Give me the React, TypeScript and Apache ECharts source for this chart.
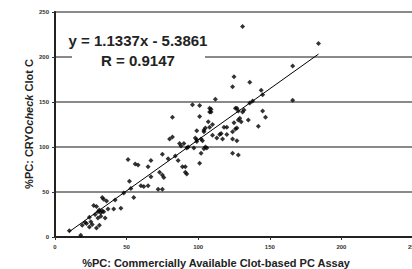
import React, { useEffect, useRef } from "react";
import * as echarts from "echarts";

const xTicks = [0, 50, 100, 150, 200, 250];
const yTicks = [0, 50, 100, 150, 200, 250];

const points: number[][] = [
  [10, 7], [18, 2], [19, 13], [21, 16], [22, 15], [24, 11], [25, 17], [24, 22], [26, 14], [27, 35],
  [28, 25], [29, 10], [29, 34], [30, 28], [30, 21], [31, 30], [31, 13], [32, 23], [32, 27], [33, 29],
  [33, 44], [34, 28], [34, 42], [35, 21], [36, 40], [37, 31], [41, 31], [42, 41], [46, 32], [48, 49],
  [51, 86], [52, 62], [53, 54], [55, 44], [56, 81], [58, 80], [60, 57], [62, 56], [65, 57], [65, 78],
  [67, 85], [67, 67], [72, 53], [75, 53], [73, 72], [75, 69], [76, 66], [75, 92], [79, 87], [80, 109],
  [82, 111], [82, 133], [84, 90], [86, 85], [87, 104], [88, 101], [89, 78], [90, 104], [91, 72], [91, 78],
  [92, 70], [93, 100], [92, 99], [96, 147], [97, 99], [98, 110], [99, 106], [99, 118], [99, 108], [101, 134],
  [101, 146], [101, 82], [102, 109], [102, 93], [103, 107], [104, 98], [104, 117], [104, 119], [105, 100], [105, 121],
  [106, 99], [107, 128], [108, 143], [108, 139], [108, 122], [109, 142], [109, 139], [110, 113], [110, 125], [112, 153],
  [113, 110], [115, 114], [116, 115], [117, 109], [118, 122], [120, 114], [120, 122], [124, 117], [124, 109], [124, 93],
  [125, 127], [126, 143], [126, 120], [127, 107], [127, 121], [128, 91], [127, 143], [128, 140], [129, 132], [128, 130],
  [130, 128], [131, 139], [132, 141], [135, 130], [136, 149], [138, 151], [142, 123], [145, 140], [147, 133], [166, 152],
  [131, 234], [184, 215], [166, 190], [125, 178], [124, 167], [136, 172], [144, 163], [145, 158],
];

const slope = 1.1337;
const intercept = -5.3861;
const fitRange = [10, 184];
const equationText = "y = 1.1337x - 5.3861";
const rText = "R = 0.9147";
const xTitle = "%PC: Commercially Available Clot-based PC Assay";
const yTitleParts = ["%PC: CRYO", "check", " Clot C"];

export default function App() {
  const ref = useRef<HTMLDivElement>(null);
  useEffect(() => {
    if (!ref.current) return;
    const chart = echarts.init(ref.current, null, { renderer: "svg" });
    const fitLine = fitRange.map((x) => [x, slope * x + intercept]);
    const font = "Liberation Sans, Arial, sans-serif";
    chart.setOption({
      animation: false,
      backgroundColor: "#fff",
      grid: {
        left: 55,
        width: 358,
        top: 12,
        height: 225,
        outerBoundsMode: "none",
        containLabel: false,
        show: true,
        borderColor: "#3c3c3c",
        borderWidth: 2,
      },
      xAxis: {
        type: "value",
        min: xTicks[0],
        max: xTicks[xTicks.length - 1],
        interval: 50,
        axisLine: { show: true, lineStyle: { color: "#222", width: 2 } },
        axisTick: { show: true, length: 3, lineStyle: { color: "#333" } },
        axisLabel: {
          margin: 7,
          fontSize: 6,
          fontWeight: "bold",
          color: "#333",
          fontFamily: font,
          showMaxLabel: true,
        },
        splitLine: { show: false },
      },
      yAxis: {
        type: "value",
        min: yTicks[0],
        max: yTicks[yTicks.length - 1],
        interval: 50,
        axisLine: { show: true, lineStyle: { color: "#222", width: 2 } },
        axisTick: { show: true, length: 3, lineStyle: { color: "#333" } },
        axisLabel: {
          margin: 6,
          fontSize: 6,
          fontWeight: "bold",
          color: "#333",
          fontFamily: font,
        },
        splitLine: { show: true, lineStyle: { color: "#8a8a8a", width: 2 } },
      },
      series: [
        {
          type: "scatter",
          data: points,
          symbol: "diamond",
          symbolSize: 5,
          itemStyle: { color: "#000" },
          z: 3,
        },
        {
          type: "line",
          data: fitLine,
          symbol: "none",
          lineStyle: { color: "#000", width: 1 },
          z: 4,
        },
      ],
      graphic: [
        {
          type: "rect",
          shape: { x: 72, y: 25, width: 133, height: 46 },
          style: { fill: "#fff" },
          z: 10,
        },
        {
          type: "text",
          x: 138,
          y: 40,
          z: 11,
          style: {
            text: equationText,
            fill: "#222",
            font: `bold 15px ${font}`,
            align: "center",
            verticalAlign: "middle",
          },
        },
        {
          type: "text",
          x: 138,
          y: 60,
          z: 11,
          style: {
            text: rText,
            fill: "#222",
            font: `bold 15px ${font}`,
            align: "center",
            verticalAlign: "middle",
          },
        },
        {
          type: "text",
          x: 216,
          y: 263,
          z: 11,
          style: {
            text: xTitle,
            fill: "#222",
            font: `bold 11px ${font}`,
            align: "center",
            verticalAlign: "middle",
          },
        },
        {
          type: "text",
          x: 29,
          y: 124,
          rotation: Math.PI / 2,
          z: 11,
          style: {
            text: `{a|${yTitleParts[0]}}{b|${yTitleParts[1]}}{a|${yTitleParts[2]}}`,
            align: "center",
            verticalAlign: "middle",
            rich: {
              a: { font: `bold 11px ${font}`, fill: "#222" },
              b: { font: `italic bold 11px ${font}`, fill: "#222" },
            },
          },
        },
      ],
    });
    return () => chart.dispose();
  }, []);
  return (
    <div
      ref={ref}
      style={{ position: "absolute", left: 0, top: 0, width: 412, height: 269 }}
    />
  );
}
